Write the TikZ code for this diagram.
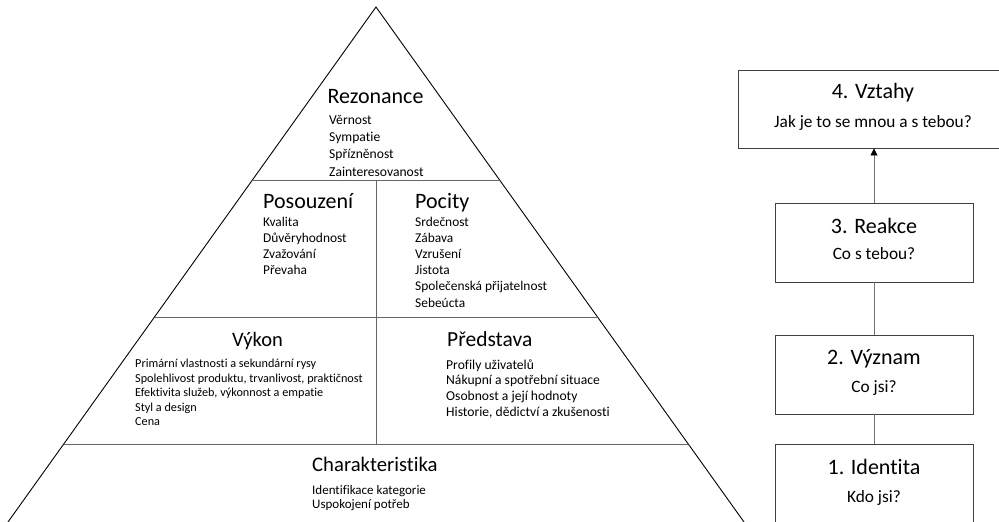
\documentclass[tikz,border=0pt]{standalone}
\usepackage{fontspec}
\setmainfont{Carlito}[Ligatures=NoCommon]
\usetikzlibrary{arrows.meta}
\begin{document}
\begin{tikzpicture}[x=1pt,y=-1pt,
  side/.style={draw=black,line width=0.9pt},
  divline/.style={draw=black!60,line width=0.8pt},
  ttl/.style={font=\fontsize{22}{24}\selectfont,inner sep=0pt,anchor=base west},
  itm/.style={font=\fontsize{13.4}{16}\selectfont,inner sep=0pt,anchor=base west},
  boxn/.style={draw=black!75,line width=0.9pt,minimum width=198pt,minimum height=79pt,inner sep=0pt},
  bttl/.style={font=\fontsize{22}{24}\selectfont,inner sep=0pt,anchor=base},
  bsub/.style={font=\fontsize{17.3}{19}\selectfont,inner sep=0pt,anchor=base},
  conn/.style={draw=black!55,line width=0.8pt}]
\useasboundingbox (0,0) rectangle (999,522);
\clip (0,0) rectangle (999,522);
% pyramid
\coordinate (apex) at (376,7);
\coordinate (bl) at (8,522);
\coordinate (br) at (744,522);
\coordinate (l1) at (252.4,180);
\coordinate (r1) at (499.6,180);
\coordinate (l2) at (154.5,317);
\coordinate (r2) at (597.5,317);
\coordinate (l3) at (63.7,444);
\coordinate (r3) at (688.3,444);
\coordinate (m1) at (376,180);
\coordinate (m3) at (376,444);
\draw[side] (bl) -- (apex) -- (br);
\draw[divline] (l1) -- (r1);
\draw[divline] (l2) -- (r2);
\draw[divline] (l3) -- (r3);
\draw[divline] (m1) -- (m3);
% Rezonance
\node[ttl,anchor=base] (rez) at (375.5,103) {Rezonance};
\foreach \t [count=\i from 0] in {Věrnost,Sympatie,Spřízněnost,Zainteresovanost}
  \node[itm,font=\fontsize{13.6}{16}\selectfont] (rez\i) at (329,124+17.4*\i) {\t};
% Posouzeni
\node[ttl] (pos) at (263,208) {Posouzení};
\foreach \t [count=\i from 0] in {Kvalita,Důvěryhodnost,Zvažování,Převaha}
  \node[itm] (pos\i) at (263,226+16.2*\i) {\t};
% Pocity
\node[ttl] (poc) at (415,208) {Pocity};
\foreach \t [count=\i from 0] in {Srdečnost,Zábava,Vzrušení,Jistota,Společenská přijatelnost,Sebeúcta}
  \node[itm] (poc\i) at (415,226+16.2*\i) {\t};
% Vykon
\node[ttl,anchor=base,font=\fontsize{20.5}{22}\selectfont] (vyk) at (257.5,346) {Výkon};
\foreach \t [count=\i from 0] in {Primární vlastnosti a sekundární rysy,{Spolehlivost produktu, trvanlivost, praktičnost},{Efektivita služeb, výkonnost a empatie},Styl a design,Cena}
  \node[itm,font=\fontsize{12.2}{14}\selectfont] (vyk\i) at (135,367.5+14.5*\i) {\t};
% Predstava
\node[ttl,font=\fontsize{21.5}{24}\selectfont] (pre) at (447,346) {Představa};
\foreach \t [count=\i from 0] in {Profily uživatelů,Nákupní a spotřební situace,Osobnost a její hodnoty,{Historie, dědictví a zkušenosti}}
  \node[itm,font=\fontsize{13.6}{16}\selectfont] (pre\i) at (446,369+15.7*\i) {\t};
% Charakteristika
\node[ttl,font=\fontsize{20.7}{23}\selectfont] (cha) at (312,471) {Charakteristika};
\foreach \t [count=\i from 0] in {Identifikace kategorie,Uspokojení potřeb}
  \node[itm,font=\fontsize{13}{15}\selectfont] (cha\i) at (312,494+14.5*\i) {\t};
% right boxes
\node[boxn,minimum width=266pt,minimum height=78pt] (b4) at (871,109) {};
\node[boxn] (b3) at (874,242.5) {};
\node[boxn] (b2) at (874,374.5) {};
\node[boxn] (b1) at (874,483.5) {};
\node[bttl] (t4) at (873,98) {4. Vztahy};
\node[bsub] (s4) at (873,127) {Jak je to se mnou a s tebou?};
\node[bttl] (t3) at (874,233) {3. Reakce};
\node[bsub] (s3) at (874,259) {Co s tebou?};
\node[bttl] (t2) at (874,364) {2. Význam};
\node[bsub] (s2) at (874,392) {Co jsi?};
\node[bttl] (t1) at (874,474) {1. Identita};
\node[bsub] (s1) at (874,502) {Kdo jsi?};
\draw[conn,-{Triangle[length=7pt,width=7pt,color=black]}] (b3.north) -- (b4.south -| b3.north);
\draw[conn] (b2.north) -- (b3.south);
\draw[conn] (b1.north) -- (b2.south);
\end{tikzpicture}
\end{document}
